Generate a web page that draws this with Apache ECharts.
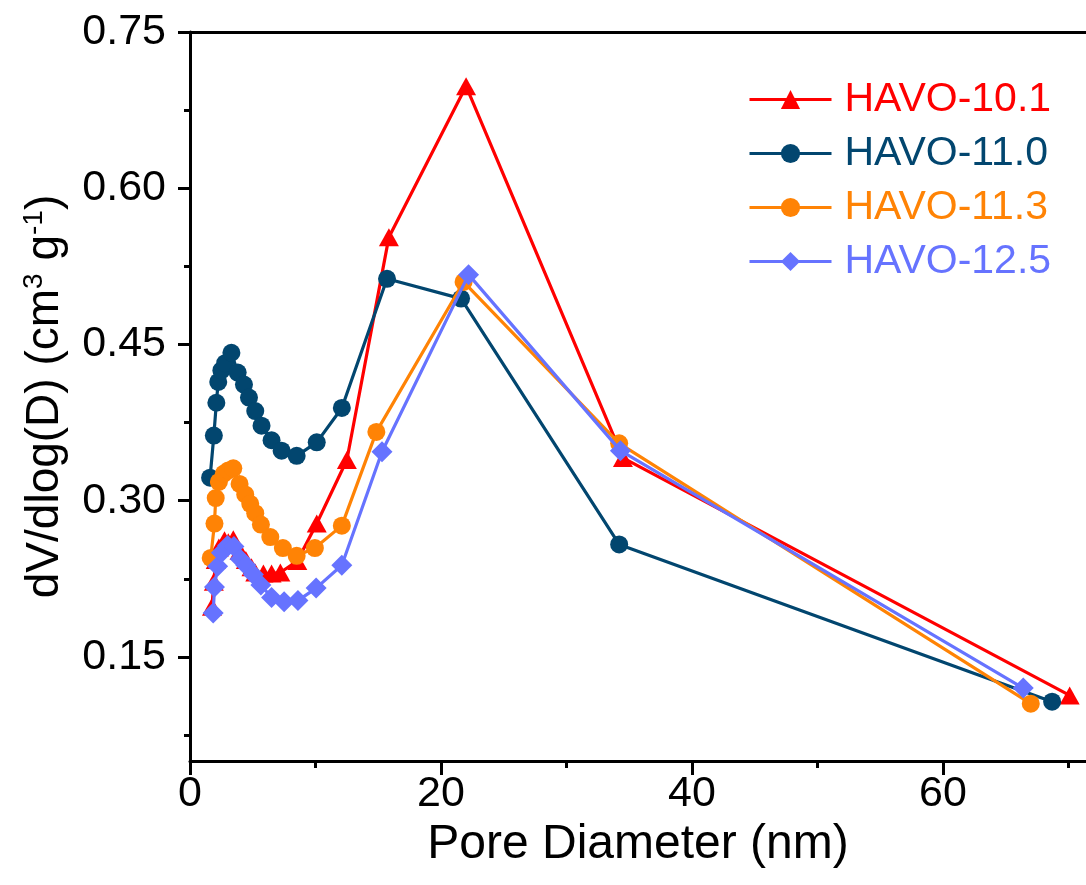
<!DOCTYPE html>
<html>
<head>
<meta charset="utf-8">
<script src="https://cdn.jsdelivr.net/npm/echarts@6/dist/echarts.min.js"></script>
<style>
  html, body { margin: 0; padding: 0; background: #fff; }
  #chart { width: 1086px; height: 885px; }
</style>
</head>
<body>
<div id="chart"></div>
<script>
// Pore size distribution (BJH) of the HAVO samples
const seriesNames = ['HAVO-10.1', 'HAVO-11.0', 'HAVO-11.3', 'HAVO-12.5'];
const seriesColors = ['#FF0000', '#02466F', '#FF8305', '#6673FF'];
const seriesSymbols = ['triangle', 'circle', 'circle', 'diamond'];

// Pore diameter (nm) and dV/dlog(D) (cm3 g-1) per sample
const d101 = [1.75, 1.9, 2.05, 2.3, 2.75, 3.05, 3.45, 3.95, 4.45, 4.9, 5.2, 5.85, 6.5, 7.2, 8.55, 10.1, 12.5, 15.85, 22.0, 34.5, 70.1];
const v101 = [0.198, 0.222, 0.243, 0.255, 0.262, 0.26, 0.263, 0.252, 0.243, 0.236, 0.231, 0.23, 0.23, 0.231, 0.242, 0.278, 0.339, 0.553, 0.698, 0.341, 0.113];

const d110 = [1.6, 1.9, 2.1, 2.25, 2.5, 2.8, 3.3, 3.8, 4.3, 4.7, 5.2, 5.7, 6.5, 7.3, 8.5, 10.1, 12.1, 15.7, 21.6, 34.2, 68.7];
const v110 = [0.322, 0.3625, 0.394, 0.414, 0.425, 0.432, 0.442, 0.423, 0.4115, 0.399, 0.386, 0.372, 0.358, 0.348, 0.343, 0.356, 0.389, 0.513, 0.494, 0.258, 0.107];

const d113 = [1.65, 1.95, 2.05, 2.3, 2.7, 3.05, 3.45, 3.95, 4.4, 4.8, 5.2, 5.65, 6.4, 7.4, 8.5, 9.95, 12.1, 14.85, 21.8, 34.2, 67.0];
const v113 = [0.245, 0.278, 0.3025, 0.318, 0.326, 0.329, 0.331, 0.316, 0.306, 0.297, 0.288, 0.277, 0.265, 0.2545, 0.247, 0.2545, 0.276, 0.366, 0.51, 0.355, 0.105];

const d125 = [1.85, 1.95, 2.2, 2.5, 3.0, 3.5, 4.0, 4.45, 5.05, 5.65, 6.5, 7.5, 8.6, 10.05, 12.1, 15.3, 22.2, 34.3, 66.4];
const v125 = [0.192, 0.217, 0.237, 0.25, 0.257, 0.256, 0.244, 0.238, 0.229, 0.219, 0.207, 0.203, 0.204, 0.216, 0.238, 0.347, 0.517, 0.348, 0.12];

// Axis ticks
const xMajorTicks = [0, 20, 40, 60];
const xMinorTicks = [10, 30, 50, 70];
const yMajorTicks = [0.15, 0.30, 0.45, 0.60, 0.75];
const yMinorTicks = [0.075, 0.225, 0.375, 0.525, 0.675];

const xs = [d101, d110, d113, d125];
const ys = [v101, v110, v113, v125];

const FONT = '"Liberation Sans", Arial, sans-serif';
const X_MIN = 0, X_MAX = 71.4, Y_MIN = 0.05, Y_MAX = 0.75;

const chart = echarts.init(document.getElementById('chart'), null, { renderer: 'canvas' });

const series = seriesNames.map((name, i) => ({
  name: name,
  type: 'line',
  xAxisIndex: 0,
  yAxisIndex: 0,
  data: xs[i].map((x, k) => [x, ys[i][k]]),
  symbol: seriesSymbols[i],
  symbolSize: seriesSymbols[i] === 'triangle' ? [20, 18] : (seriesSymbols[i] === 'diamond' ? 21 : 18),
  showSymbol: true,
  lineStyle: { color: seriesColors[i], width: 3.2 },
  itemStyle: { color: seriesColors[i], borderWidth: 0 },
  emphasis: { disabled: true },
  animation: false,
  z: 2 + i
}));

const axisLine = { show: true, lineStyle: { color: '#000', width: 3 } };

chart.setOption({
  backgroundColor: '#fff',
  animation: false,
  grid: { left: 190, right: 0, top: 32, bottom: 124, containLabel: false },
  legend: {
    left: 748,
    top: 79,
    padding: 0,
    orient: 'vertical',
    itemWidth: 82,
    itemHeight: 24,
    itemGap: 13,
    lineStyle: { width: 3 },
    data: seriesNames.map((n, i) => ({ name: n, textStyle: { color: seriesColors[i] } })),
    textStyle: { fontFamily: FONT, fontSize: 41, padding: [0, 0, 0, 8] },
    selectedMode: false
  },
  xAxis: [
    {
      type: 'value', min: X_MIN, max: X_MAX, position: 'bottom',
      name: 'Pore Diameter (nm)', nameLocation: 'middle', nameGap: 36,
      nameTextStyle: { fontFamily: FONT, fontSize: 48, color: '#000' },
      axisLine: axisLine,
      axisTick: { show: true, inside: false, length: 14, customValues: xMajorTicks, lineStyle: { color: '#000', width: 3 } },
      axisLabel: { show: true, margin: 12, customValues: xMajorTicks, fontFamily: FONT, fontSize: 43, color: '#000' },
      splitLine: { show: false }
    },
    {
      type: 'value', min: X_MIN, max: X_MAX, position: 'bottom', offset: 0,
      axisLine: { show: false },
      axisTick: { show: true, inside: false, length: 7, customValues: xMinorTicks, lineStyle: { color: '#000', width: 3 } },
      axisLabel: { show: false },
      splitLine: { show: false }
    },
    {
      type: 'value', min: X_MIN, max: X_MAX, position: 'top', offset: 0,
      axisLine: axisLine,
      axisTick: { show: false },
      axisLabel: { show: false },
      splitLine: { show: false }
    }
  ],
  yAxis: [
    {
      type: 'value', min: Y_MIN, max: Y_MAX, position: 'left',
      name: '{a|dV/dlog(D) (cm}{s|3}{a| g}{s|-1}{a|)}',
      nameLocation: 'middle', nameGap: 122, nameRotate: 90,
      nameTextStyle: {
        fontFamily: FONT, color: '#000',
        rich: {
          a: { fontFamily: FONT, fontSize: 46, color: '#000', verticalAlign: 'bottom' },
          s: { fontFamily: FONT, fontSize: 28, color: '#000', verticalAlign: 'bottom', padding: [0, 0, 20, 0] }
        }
      },
      axisLine: axisLine,
      axisTick: { show: true, inside: false, length: 12, customValues: yMajorTicks, lineStyle: { color: '#000', width: 3 } },
      axisLabel: {
        show: true, margin: 24, customValues: yMajorTicks, fontFamily: FONT, fontSize: 43, color: '#000',
        formatter: v => v.toFixed(2)
      },
      splitLine: { show: false }
    },
    {
      type: 'value', min: Y_MIN, max: Y_MAX, position: 'left', offset: 0,
      axisLine: { show: false },
      axisTick: { show: true, inside: false, length: 6, customValues: yMinorTicks, lineStyle: { color: '#000', width: 3 } },
      axisLabel: { show: false },
      splitLine: { show: false }
    }
  ],
  series: series
});
</script>
</body>
</html>
